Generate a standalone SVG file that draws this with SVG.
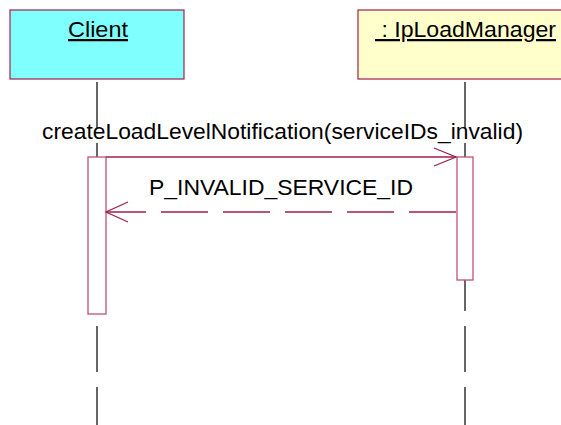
<svg xmlns="http://www.w3.org/2000/svg" width="561" height="425" viewBox="0 0 561 425">
<style>
.obj{stroke:#a0204a;stroke-width:1.2}
.lbl{font-family:"Liberation Sans",Arial,sans-serif;font-size:22.5px;fill:#000}
.life{stroke:#000;stroke-width:1.2;stroke-dasharray:46 15;fill:none}
.act{fill:#fff;stroke:#c0507a;stroke-width:1.3}
.msg{stroke:#a0204a;stroke-width:1.3;fill:none}
</style>
<rect width="561" height="425" fill="#fff"/>
<g id="connectors">
<line class="life" x1="97" y1="82" x2="97" y2="440"/>
<line class="life" x1="465" y1="82" x2="465" y2="440"/>
</g>
<g id="client">
<rect class="obj" x="10" y="10" width="174" height="69" fill="#80ffff"/>
<text class="lbl" x="68" y="37" textLength="60" lengthAdjust="spacingAndGlyphs" text-decoration="underline">Client</text>
</g>
<g id="iploadmanager">
<rect class="obj" x="358" y="10" width="210" height="69" fill="#ffffcc"/>
<text class="lbl" x="375" y="37" textLength="181" lengthAdjust="spacingAndGlyphs" text-decoration="underline" xml:space="preserve"> : IpLoadManager</text>
</g>
<g id="client-activation">
<rect class="act" x="88" y="157" width="18" height="157"/>
</g>
<g id="iploadmanager-activation">
<rect class="act" x="457" y="157" width="16" height="123"/>
</g>
<g id="messages">
<line class="msg" x1="106" y1="157" x2="456" y2="157"/>
<polyline class="msg" points="434,148 456,157 434,166"/>
<text class="lbl" x="42" y="139" textLength="481" lengthAdjust="spacingAndGlyphs">createLoadLevelNotification(serviceIDs_invalid)</text>
<line class="msg" x1="456" y1="212" x2="106" y2="212" stroke-dasharray="47 15"/>
<polyline class="msg" points="128,202 106,212 128,222"/>
<text class="lbl" x="149" y="195" textLength="264" lengthAdjust="spacingAndGlyphs">P_INVALID_SERVICE_ID</text>
</g>
</svg>
